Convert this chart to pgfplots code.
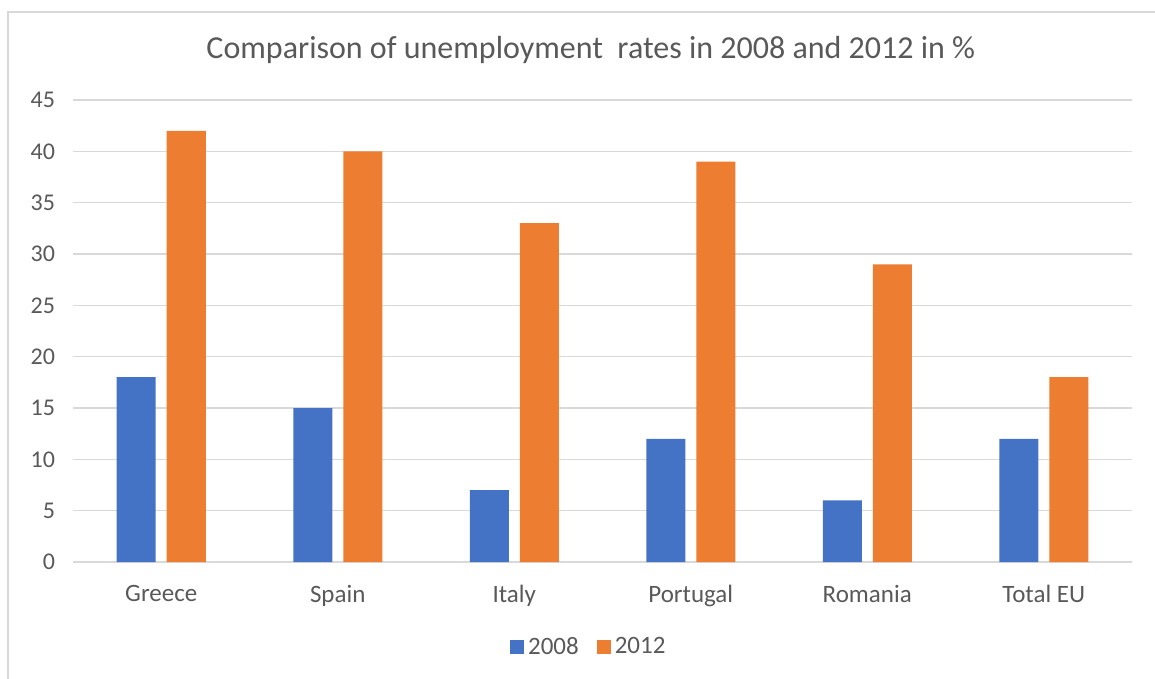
\documentclass[border=0pt]{standalone}
\usepackage{pgfplots}
\pgfplotsset{compat=1.18}
\usepackage{fontspec}
\setmainfont{Carlito}
\definecolor{cblue}{HTML}{4472C4}
\definecolor{corange}{HTML}{ED7D31}
\definecolor{cgrid}{HTML}{D9D9D9}
\definecolor{ctext}{HTML}{595959}
\begin{document}
\begin{tikzpicture}
\useasboundingbox (-36.5pt,-58.5pt) rectangle (541pt,281pt);
\draw[cgrid, line width=0.8pt] (-32.5pt,-70pt) -- (-32.5pt,275pt) -- (560pt,275pt);
\begin{axis}[
  at={(0,0)}, anchor=south west,
  width=529.5pt, height=231pt, scale only axis,
  xmin=-0.5, xmax=5.5, ymin=0, ymax=45,
  ytick={0,5,...,45},
  xtick={0,1,2,3,4,5},
  xticklabels={Greece,Spain,Italy,Portugal,Romania,Total EU},
  ybar, bar width=19.5pt,
  axis line style={draw=none},
  axis x line*=bottom, axis y line*=left,
  major tick length=0pt,
  ymajorgrids, grid style={cgrid, line width=0.8pt},
  extra y ticks={0}, extra y tick labels={},
  extra y tick style={grid style={cgrid, line width=1pt}},
  /pgf/number format/assume math mode=true,
  yticklabel style={font=\fontsize{12}{14}\selectfont, text=ctext, xshift=-5.5pt},
  xticklabel style={font=\fontsize{12.5}{15}\selectfont, text=ctext, yshift=-8pt},
  legend style={at={(0.488,-0.184)}, anchor=center, draw=none, fill=none,
    legend columns=-1, font=\fontsize{12.5}{15}\selectfont, text=ctext,
    /tikz/every even column/.append style={column sep=7pt}},
  legend image code/.code={\fill[#1] (0pt,-3.5pt) rectangle (7pt,3.5pt);},
  clip=false,
  title={Comparison of unemployment\ \ rates in 2008 and 2012 in \%},
  title style={at={(0.489,1.082)}, anchor=center, font=\fontsize{16}{19}\selectfont, text=ctext},
]
\addplot[fill=cblue, draw=none, bar shift=-12.5pt] coordinates {(0,18) (1,15) (2,7) (3,12) (4,6) (5,12)};
\addplot[fill=corange, draw=none, bar shift=12.5pt] coordinates {(0,42) (1,40) (2,33) (3,39) (4,29) (5,18)};
\legend{2008,2012}
\end{axis}
\end{tikzpicture}
\end{document}
